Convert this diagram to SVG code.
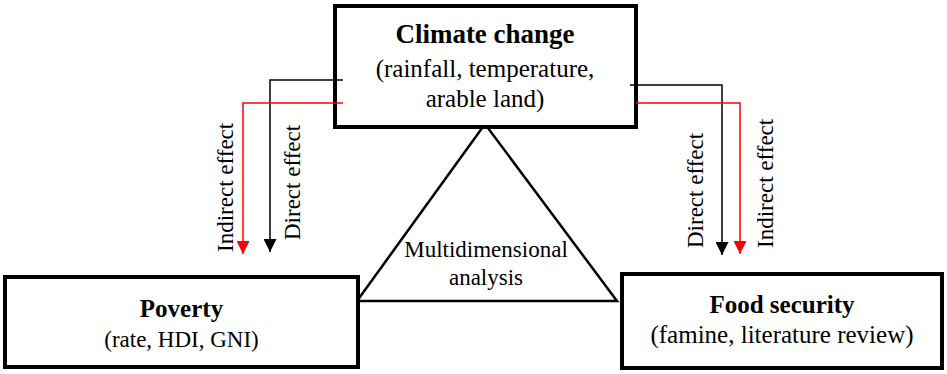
<svg xmlns="http://www.w3.org/2000/svg" width="947" height="374" viewBox="0 0 947 374">
<style>
  text { font-family: "Liberation Serif", "Times New Roman", serif; fill: #000; }
  .t { text-anchor: middle; }
  .b { font-weight: bold; }
  .box { fill: #fff; stroke: #000; stroke-width: 4; }
  .blk { fill: none; stroke: #000; stroke-width: 1.5; }
  .red { fill: none; stroke: #ff0000; stroke-width: 1.5; }
  .lbl { font-size: 23px; }
</style>
<defs>
  <marker id="ah-black" viewBox="0 0 10 10" refX="10" refY="5" markerWidth="13" markerHeight="13" markerUnits="userSpaceOnUse" orient="auto">
    <path d="M0,0 L10,5 L0,10 Z" fill="#000"/>
  </marker>
  <marker id="ah-red" viewBox="0 0 10 10" refX="10" refY="5" markerWidth="13" markerHeight="13" markerUnits="userSpaceOnUse" orient="auto">
    <path d="M0,0 L10,5 L0,10 Z" fill="#ff0000"/>
  </marker>
</defs>
<rect width="947" height="374" fill="#fff"/>

<g id="triangle">
  <polygon points="485,124 357,301 617,301" fill="none" stroke="#000" stroke-width="2.5"/>
  <text class="t" x="486" y="257" font-size="23">Multidimensional</text>
  <text class="t" x="486" y="285" font-size="23">analysis</text>
</g>

<g id="climate">
  <rect class="box" x="335" y="6" width="301" height="121"/>
  <text class="t b" x="485" y="43" font-size="27">Climate change</text>
  <text class="t" x="485" y="77" font-size="25">(rainfall, temperature,</text>
  <text class="t" x="485" y="107" font-size="25">arable land)</text>
</g>

<g id="poverty">
  <rect class="box" x="5" y="277" width="353" height="90"/>
  <text class="t b" x="181.5" y="317" font-size="25">Poverty</text>
  <text class="t" x="181.5" y="347" font-size="23">(rate, HDI, GNI)</text>
</g>

<g id="food">
  <rect class="box" x="622" y="274" width="320" height="94"/>
  <text class="t b" x="782" y="313" font-size="25">Food security</text>
  <text class="t" x="782" y="343" font-size="25">(famine, literature review)</text>
</g>

<g id="connectors">
  <polyline class="blk" points="343,80 270,80 270,252" marker-end="url(#ah-black)"/>
  <polyline class="red" points="343,103 243,103 243,254" marker-end="url(#ah-red)"/>
  <polyline class="blk" points="630,85 722,85 722,255" marker-end="url(#ah-black)"/>
  <polyline class="red" points="636,103 740,103 740,254" marker-end="url(#ah-red)"/>
</g>

<g id="labels">
  <text class="lbl" transform="translate(233,252) rotate(-90)">Indirect effect</text>
  <text class="lbl" transform="translate(300,240) rotate(-90)">Direct effect</text>
  <text class="lbl" transform="translate(703,248) rotate(-90)">Direct effect</text>
  <text class="lbl" transform="translate(773,248) rotate(-90)">Indirect effect</text>
</g>
</svg>
